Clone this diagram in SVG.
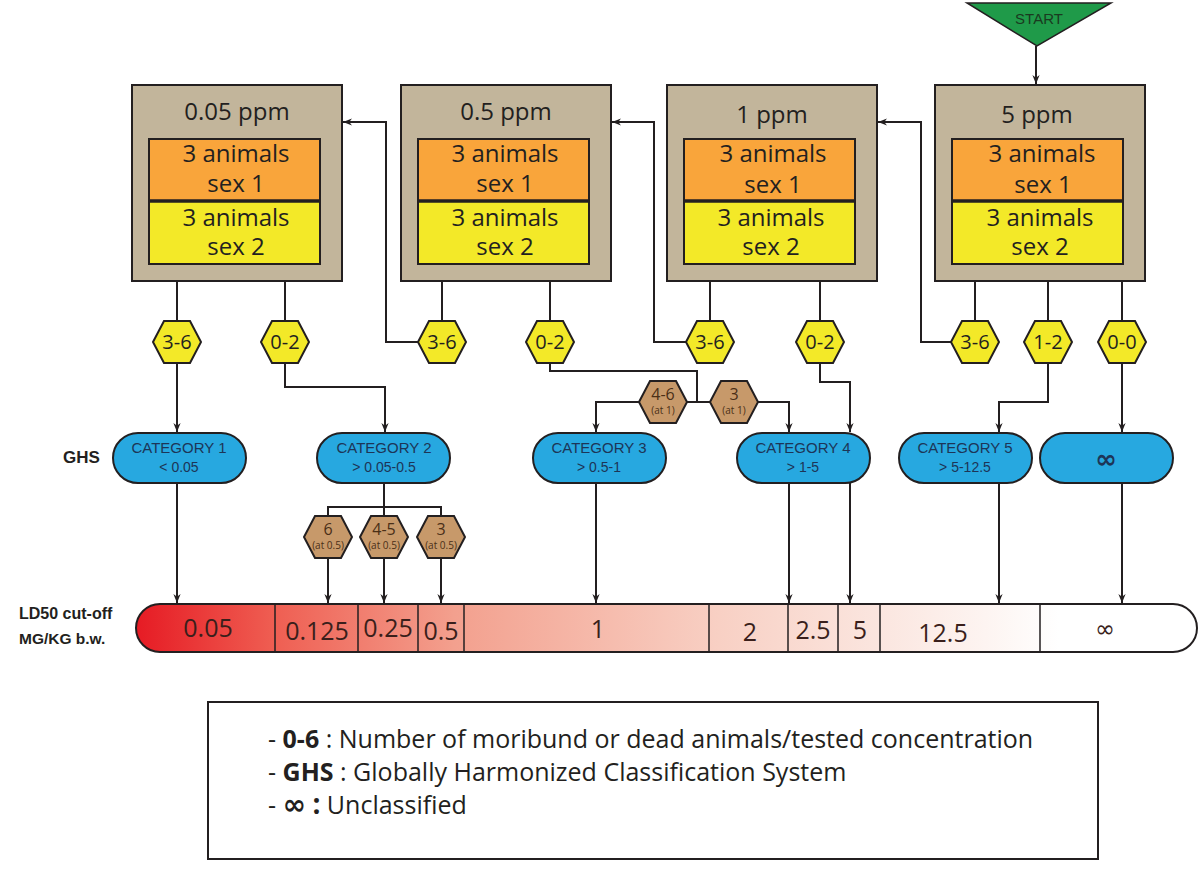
<svg xmlns="http://www.w3.org/2000/svg" width="1200" height="873" viewBox="0 0 1200 873">
<defs>
<marker id="arr" viewBox="0 0 10 10" refX="10" refY="5" markerWidth="9" markerHeight="9" orient="auto" markerUnits="userSpaceOnUse">
<path d="M0,1 L10,5 L0,9 L3,5 z" fill="#231f20"/>
</marker>
<linearGradient id="bar" x1="136" y1="0" x2="1197" y2="0" gradientUnits="userSpaceOnUse">
<stop offset="0" stop-color="#e61b24"/>
<stop offset="0.13" stop-color="#ef5e52"/>
<stop offset="0.3" stop-color="#f3a08e"/>
<stop offset="0.55" stop-color="#f8d0c4"/>
<stop offset="0.8" stop-color="#fdf4f1"/>
<stop offset="0.87" stop-color="#ffffff"/>
<stop offset="1" stop-color="#ffffff"/>
</linearGradient>
</defs>
<style>
.box{fill:#c2b59b;stroke:#231f20;stroke-width:2}
.org{fill:#f9a53b;stroke:#231f20;stroke-width:2}
.yel{fill:#f3e928;stroke:#231f20;stroke-width:2}
.sep{stroke:#231f20;stroke-width:3.5}
.ttl{font-family:"Open Sans",sans-serif;font-size:24px;fill:#231f20;text-anchor:middle}
.an{font-family:"Open Sans",sans-serif;font-size:24px;fill:#231f20;text-anchor:middle}
.hexy{fill:#f3e928;stroke:#231f20;stroke-width:2}
.hexb{fill:#c7996a;stroke:#231f20;stroke-width:2}
.hl{font-family:"Open Sans",sans-serif;font-size:20px;fill:#231f20;text-anchor:middle}
.bl{font-family:"Open Sans",sans-serif;font-size:16px;fill:#4a2f17;text-anchor:middle}
.bs{font-family:"Open Sans",sans-serif;font-size:10px;fill:#4a2f17;text-anchor:middle}
.pill{fill:#27a8e0;stroke:#231f20;stroke-width:2}
.pt{font-family:"Liberation Sans",Arial,sans-serif;font-size:15px;fill:#1d3557;text-anchor:middle}
.ps{font-family:"Liberation Sans",Arial,sans-serif;font-size:14px;fill:#1d3557;text-anchor:middle}
.ln{fill:none;stroke:#231f20;stroke-width:2}
.lab{font-family:"Liberation Sans",Arial,sans-serif;font-weight:bold;fill:#231f20}
.bt{font-family:"Open Sans",sans-serif;font-size:25px;fill:#3a1f1b;text-anchor:middle}
.dv{stroke:#231f20;stroke-width:1.5}
.lg{font-family:"Open Sans",sans-serif;font-size:25px;fill:#231f20}
</style>
<rect width="1200" height="873" fill="#ffffff"/>

<g id="start">
<polygon points="967,3 1111,3 1037,46" fill="#1f9a49" stroke="#231f20" stroke-width="1.5"/>
<text x="1039" y="24" font-family="Liberation Sans,Arial,sans-serif" font-size="15" fill="#1a3a20" text-anchor="middle">START</text>
</g>

<g id="box-005">
<rect class="box" x="132" y="85" width="210" height="196"/>
<text class="ttl" x="237" y="120">0.05 ppm</text>
<rect class="org" x="149" y="139" width="171" height="62"/>
<rect class="yel" x="149" y="201" width="171" height="63"/>
<line class="sep" x1="149" y1="201" x2="320" y2="201"/>
<text class="an" x="236" y="162">3 animals</text>
<text class="an" x="236" y="192">sex 1</text>
<text class="an" x="236" y="226">3 animals</text>
<text class="an" x="236" y="255">sex 2</text>
</g>

<g id="box-05">
<rect class="box" x="401" y="85" width="210" height="196"/>
<text class="ttl" x="506" y="120">0.5 ppm</text>
<rect class="org" x="418" y="139" width="171" height="62"/>
<rect class="yel" x="418" y="201" width="171" height="63"/>
<line class="sep" x1="418" y1="201" x2="589" y2="201"/>
<text class="an" x="505" y="162">3 animals</text>
<text class="an" x="505" y="192">sex 1</text>
<text class="an" x="505" y="226">3 animals</text>
<text class="an" x="505" y="255">sex 2</text>
</g>

<g id="box-1">
<rect class="box" x="667" y="85" width="210" height="196"/>
<text class="ttl" x="772" y="123">1 ppm</text>
<rect class="org" x="684" y="139" width="171" height="62"/>
<rect class="yel" x="684" y="201" width="171" height="63"/>
<line class="sep" x1="684" y1="201" x2="855" y2="201"/>
<text class="an" x="773" y="162">3 animals</text>
<text class="an" x="773" y="193">sex 1</text>
<text class="an" x="771" y="226">3 animals</text>
<text class="an" x="771" y="255">sex 2</text>
</g>

<g id="box-5">
<rect class="box" x="935" y="85" width="210" height="196"/>
<text class="ttl" x="1037" y="123">5 ppm</text>
<rect class="org" x="952" y="139" width="171" height="62"/>
<rect class="yel" x="952" y="201" width="171" height="63"/>
<line class="sep" x1="952" y1="201" x2="1123" y2="201"/>
<text class="an" x="1042" y="162">3 animals</text>
<text class="an" x="1043" y="193">sex 1</text>
<text class="an" x="1040" y="226">3 animals</text>
<text class="an" x="1040" y="255">sex 2</text>
</g>

<g id="connectors">
<path class="ln" d="M1036,46 V84" marker-end="url(#arr)"/>
<path class="ln" d="M177,281 V321"/>
<path class="ln" d="M285,281 V321"/>
<path class="ln" d="M442,281 V321"/>
<path class="ln" d="M550,281 V321"/>
<path class="ln" d="M710,281 V321"/>
<path class="ln" d="M820,281 V321"/>
<path class="ln" d="M975,281 V321"/>
<path class="ln" d="M1048,281 V321"/>
<path class="ln" d="M1122,281 V321"/>
<path class="ln" d="M418,342 H386 V122 H343" marker-end="url(#arr)"/>
<path class="ln" d="M686,342 H654 V122 H612" marker-end="url(#arr)"/>
<path class="ln" d="M951,342 H921 V122 H878" marker-end="url(#arr)"/>
<path class="ln" d="M177,363 V432" marker-end="url(#arr)"/>
<path class="ln" d="M285,363 V387 H385 V432" marker-end="url(#arr)"/>
<path class="ln" d="M550,363 V371 H697 V402"/>
<path class="ln" d="M687,402 H710"/>
<path class="ln" d="M639,402 H596 V432" marker-end="url(#arr)"/>
<path class="ln" d="M758,402 H789 V432" marker-end="url(#arr)"/>
<path class="ln" d="M820,363 V382 H850 V432" marker-end="url(#arr)"/>
<path class="ln" d="M1048,363 V402 H999 V432" marker-end="url(#arr)"/>
<path class="ln" d="M1122,363 V432" marker-end="url(#arr)"/>
<path class="ln" d="M177,483 V603" marker-end="url(#arr)"/>
<path class="ln" d="M384,483 V507"/>
<path class="ln" d="M328,516 V507 H441 V516"/>
<path class="ln" d="M384,507 V516"/>
<path class="ln" d="M328,558 V603" marker-end="url(#arr)"/>
<path class="ln" d="M384,558 V603" marker-end="url(#arr)"/>
<path class="ln" d="M441,558 V603" marker-end="url(#arr)"/>
<path class="ln" d="M596,483 V603" marker-end="url(#arr)"/>
<path class="ln" d="M789,483 V603" marker-end="url(#arr)"/>
<path class="ln" d="M850,483 V603" marker-end="url(#arr)"/>
<path class="ln" d="M999,483 V603" marker-end="url(#arr)"/>
<path class="ln" d="M1122,483 V603" marker-end="url(#arr)"/>
</g>

<g id="hex-b1-36"><polygon class="hexy" points="153,342 164,321 190,321 201,342 190,363 164,363"/><text class="hl" x="177" y="349">3-6</text></g>
<g id="hex-b1-02"><polygon class="hexy" points="261,342 272,321 298,321 309,342 298,363 272,363"/><text class="hl" x="285" y="349">0-2</text></g>
<g id="hex-b2-36"><polygon class="hexy" points="418,342 429,321 455,321 466,342 455,363 429,363"/><text class="hl" x="442" y="349">3-6</text></g>
<g id="hex-b2-02"><polygon class="hexy" points="526,342 537,321 563,321 574,342 563,363 537,363"/><text class="hl" x="550" y="349">0-2</text></g>
<g id="hex-b3-36"><polygon class="hexy" points="686,342 697,321 723,321 734,342 723,363 697,363"/><text class="hl" x="710" y="349">3-6</text></g>
<g id="hex-b3-02"><polygon class="hexy" points="796,342 807,321 833,321 844,342 833,363 807,363"/><text class="hl" x="820" y="349">0-2</text></g>
<g id="hex-b4-36"><polygon class="hexy" points="951,342 962,321 988,321 999,342 988,363 962,363"/><text class="hl" x="975" y="349">3-6</text></g>
<g id="hex-b4-12"><polygon class="hexy" points="1024,342 1035,321 1061,321 1072,342 1061,363 1035,363"/><text class="hl" x="1048" y="349">1-2</text></g>
<g id="hex-b4-00"><polygon class="hexy" points="1098,342 1109,321 1135,321 1146,342 1135,363 1109,363"/><text class="hl" x="1122" y="349">0-0</text></g>

<g id="hex-46-at1"><polygon class="hexb" points="639,402 650,381 676,381 687,402 676,423 650,423"/><text class="bl" x="663" y="400">4-6</text><text class="bs" x="663" y="414">(at 1)</text></g>
<g id="hex-3-at1"><polygon class="hexb" points="710,402 721,381 747,381 758,402 747,423 721,423"/><text class="bl" x="734" y="400">3</text><text class="bs" x="734" y="414">(at 1)</text></g>
<g id="hex-6-at05"><polygon class="hexb" points="304,537 315,516 341,516 352,537 341,558 315,558"/><text class="bl" x="328" y="535">6</text><text class="bs" x="328" y="549">(at 0.5)</text></g>
<g id="hex-45-at05"><polygon class="hexb" points="360,537 371,516 397,516 408,537 397,558 371,558"/><text class="bl" x="384" y="535">4-5</text><text class="bs" x="384" y="549">(at 0.5)</text></g>
<g id="hex-3-at05"><polygon class="hexb" points="417,537 428,516 454,516 465,537 454,558 428,558"/><text class="bl" x="441" y="535">3</text><text class="bs" x="441" y="549">(at 0.5)</text></g>

<text class="lab" x="63" y="463" font-size="17">GHS</text>

<g id="cat1"><rect class="pill" x="113" y="433" width="133" height="50" rx="25"/><text class="pt" x="179" y="453">CATEGORY 1</text><text class="ps" x="179" y="472">&lt; 0.05</text></g>
<g id="cat2"><rect class="pill" x="317" y="433" width="133" height="50" rx="25"/><text class="pt" x="384" y="453">CATEGORY 2</text><text class="ps" x="384" y="472">&gt; 0.05-0.5</text></g>
<g id="cat3"><rect class="pill" x="533" y="433" width="133" height="50" rx="25"/><text class="pt" x="599" y="453">CATEGORY 3</text><text class="ps" x="599" y="472">&gt; 0.5-1</text></g>
<g id="cat4"><rect class="pill" x="737" y="433" width="133" height="50" rx="25"/><text class="pt" x="803" y="453">CATEGORY 4</text><text class="ps" x="803" y="472">&gt; 1-5</text></g>
<g id="cat5"><rect class="pill" x="899" y="433" width="133" height="50" rx="25"/><text class="pt" x="965" y="453">CATEGORY 5</text><text class="ps" x="965" y="472">&gt; 5-12.5</text></g>
<g id="cat-inf"><rect class="pill" x="1040" y="433" width="133" height="50" rx="25"/><text x="1106" y="468" font-family="DejaVu Sans,sans-serif" font-size="26" font-weight="bold" fill="#1d3557" text-anchor="middle">∞</text></g>

<text class="lab" x="19" y="619" font-size="16">LD50 cut-off</text>
<text class="lab" x="19" y="644" font-size="15.5">MG/KG b.w.</text>

<g id="ld50-bar">
<rect x="136" y="604" width="1061" height="48" rx="24" fill="url(#bar)" stroke="#231f20" stroke-width="2"/>
<line class="dv" x1="275" y1="604" x2="275" y2="652"/>
<line class="dv" x1="358" y1="604" x2="358" y2="652"/>
<line class="dv" x1="418" y1="604" x2="418" y2="652"/>
<line class="dv" x1="464" y1="604" x2="464" y2="652"/>
<line class="dv" x1="709" y1="604" x2="709" y2="652"/>
<line class="dv" x1="788" y1="604" x2="788" y2="652"/>
<line class="dv" x1="838" y1="604" x2="838" y2="652"/>
<line class="dv" x1="880" y1="604" x2="880" y2="652"/>
<line class="dv" x1="1040" y1="604" x2="1040" y2="652"/>
<text class="bt" x="208" y="637">0.05</text>
<text class="bt" x="317" y="640">0.125</text>
<text class="bt" x="388" y="637">0.25</text>
<text class="bt" x="441" y="640">0.5</text>
<text class="bt" x="598" y="638">1</text>
<text class="bt" x="750" y="641">2</text>
<text class="bt" x="813" y="639">2.5</text>
<text class="bt" x="860" y="639">5</text>
<text class="bt" x="943" y="642">12.5</text>
<text x="1105" y="637" font-family="DejaVu Sans,sans-serif" font-size="24" fill="#3a1f1b" text-anchor="middle">∞</text>
</g>

<g id="legend">
<rect x="208" y="702" width="890" height="157" fill="#ffffff" stroke="#231f20" stroke-width="2"/>
<text class="lg" x="268" y="748">- <tspan font-weight="bold">0-6</tspan> : Number of moribund or dead animals/tested concentration</text>
<text class="lg" x="268" y="781">- <tspan font-weight="bold">GHS</tspan> : Globally Harmonized Classification System</text>
<text class="lg" x="268" y="814">- <tspan font-weight="bold" font-family="DejaVu Sans,sans-serif" font-size="28">∞</tspan> <tspan font-weight="bold" font-size="28">:</tspan> Unclassified</text>
</g>
</svg>
